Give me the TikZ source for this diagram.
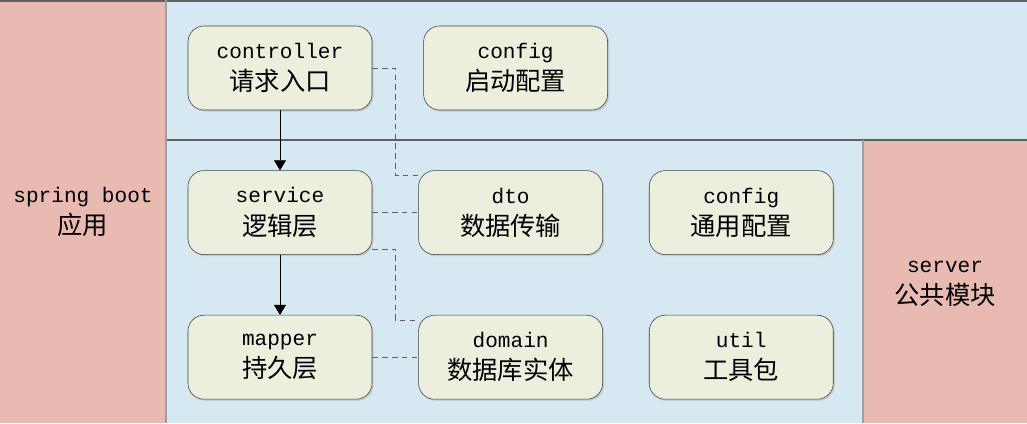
\documentclass[tikz,border=0pt]{standalone}
\usepackage{fontspec}
\setmonofont{Liberation Mono}
\newfontfamily\cjk{Noto Sans CJK SC}
\usetikzlibrary{arrows.meta,positioning,shadows}
\definecolor{appRed}{RGB}{232,186,178}
\definecolor{layerBlue}{RGB}{214,232,242}
\definecolor{boxCream}{RGB}{236,239,222}
\definecolor{edgeGray}{RGB}{90,96,100}
\newcommand{\zhtext}[1]{{\cjk\fontsize{18}{23}\selectfont #1}}

\begin{document}
\begin{tikzpicture}[
  x=0.025cm,y=-0.025cm,
  module/.style={
    draw=black!75,
    fill=boxCream,
    rounded corners=0.4cm,
    minimum width=4.6cm,
    minimum height=2.1cm,
    align=center,
    font=\fontsize{15}{23}\selectfont\ttfamily,
    drop shadow={opacity=0.25,shadow xshift=0.04cm,shadow yshift=-0.04cm}
  },
  panel/.style={align=center,font=\fontsize{15}{23}\selectfont\ttfamily},
  arrow/.style={-{Triangle[length=2.5mm,width=3mm]},black},
  link/.style={dash pattern=on 4pt off 3pt,edgeGray,thin}
]
  \useasboundingbox (0,0) rectangle (1027,423);
  % panels
  \fill[layerBlue] (0,0) rectangle (1027,423);
  \fill[appRed] (0,0) rectangle (166,423);
  \fill[appRed] (863,140) rectangle (1027,423);
  \draw[edgeGray,line width=1.2pt] (0,1) -- (1027,1);
  \draw[edgeGray!60,line width=1pt] (166,0) -- (166,423);
  \draw[edgeGray,line width=1.2pt] (167,140) -- (1027,140);
  \draw[edgeGray!60,line width=1pt] (863,140) -- (863,423);

  \node[panel] (app) at (83,212) {spring boot\\\zhtext{应用}};
  \node[panel] (server) at (945,284) {server\\\zhtext{公共模块}};

  \node[module] (controller) at (280,68) {controller\\\zhtext{请求入口}};
  \node[module,right=1.275cm of controller] (startconf) {config\\\zhtext{启动配置}};
  \node[module,below=1.5cm of controller] (service) {service\\\zhtext{逻辑层}};
  \node[module,right=1.15cm of service] (dto) {dto\\\zhtext{数据传输}};
  \node[module,right=1.15cm of dto] (commonconf) {config\\\zhtext{通用配置}};
  \node[module,below=1.5cm of service] (mapper) {mapper\\\zhtext{持久层}};
  \node[module,right=1.15cm of mapper] (domain) {domain\\\zhtext{数据库实体}};
  \node[module,right=1.15cm of domain] (util) {util\\\zhtext{工具包}};

  \draw[arrow] (controller) -- (service);
  \draw[arrow] (service) -- (mapper);

  \draw[link] (controller.east) -- ++(23,0) |- ([yshift=-0.125cm]dto.north west);
  \draw[link] (service) -- (dto);
  \draw[link] ([yshift=0.15cm]service.south east) -- ++(23,0) |- ([yshift=-0.125cm]domain.north west);
  \draw[link] (mapper) -- (domain);
\end{tikzpicture}
\end{document}
